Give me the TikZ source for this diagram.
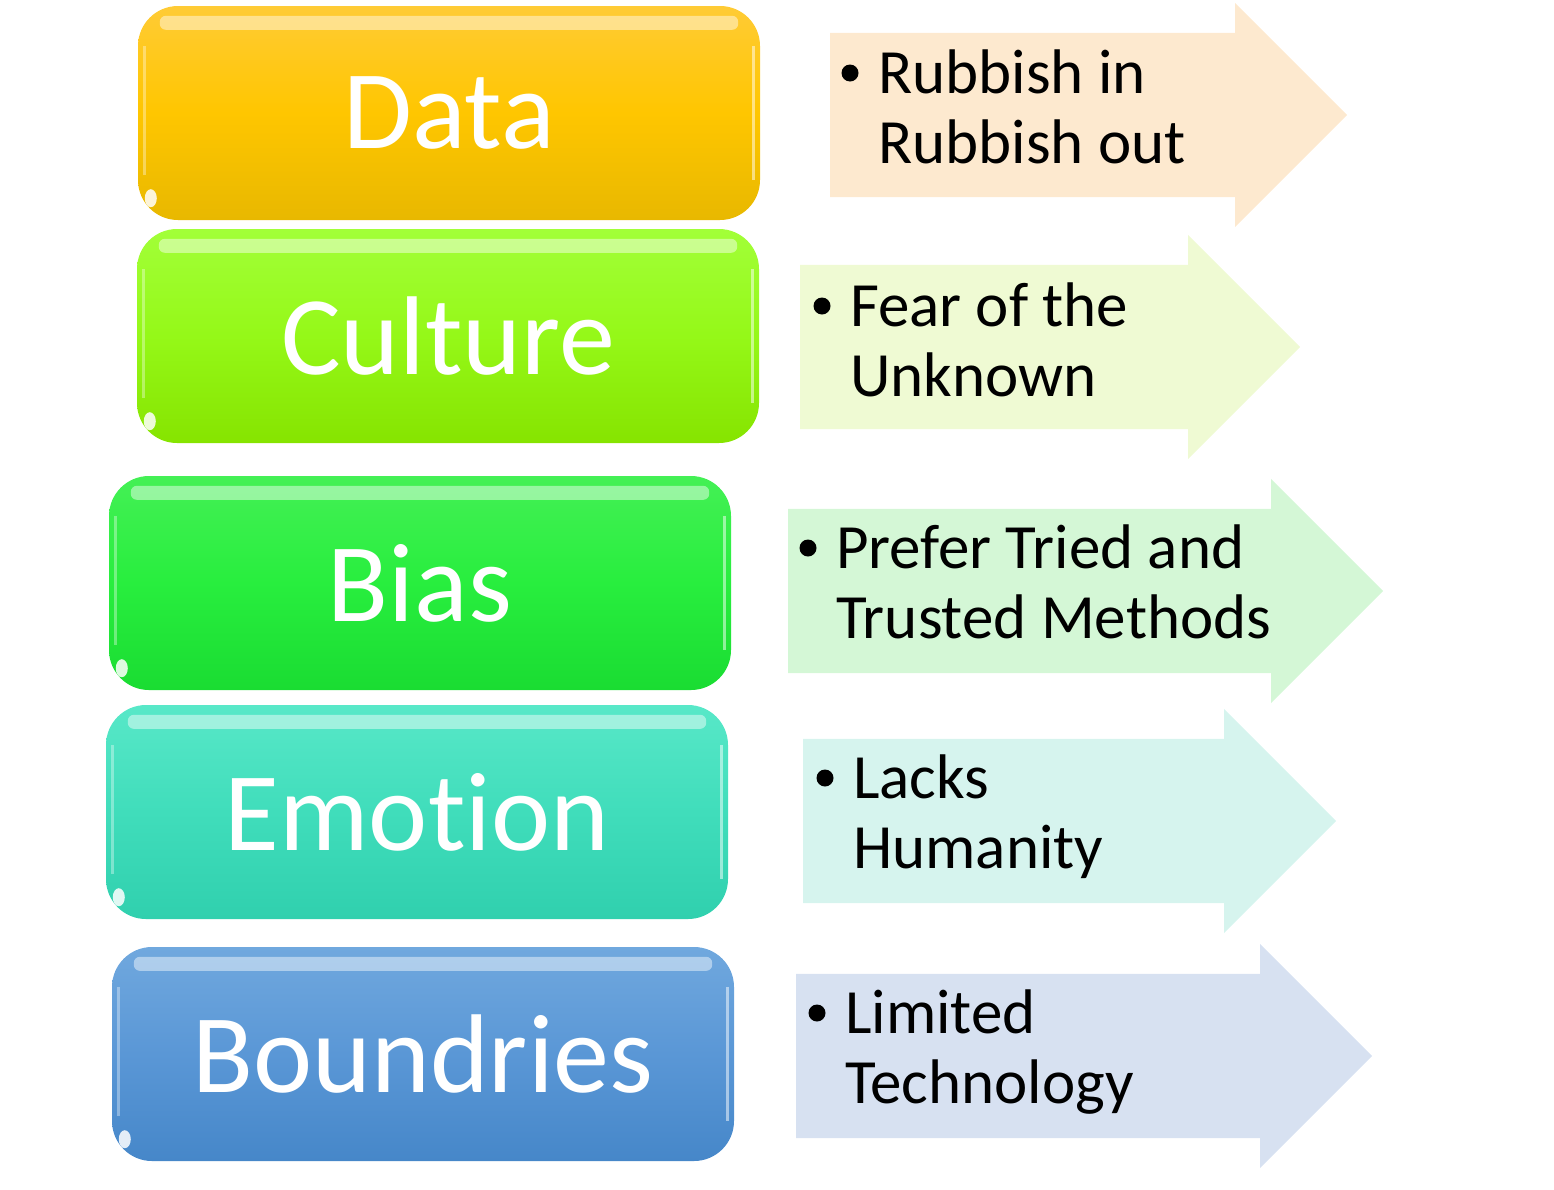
\documentclass[tikz,border=0pt]{standalone}
\usepackage{fontspec}
\setmainfont{Carlito}[Ligatures=CommonOff]
\usetikzlibrary{shapes.arrows}

\definecolor{dataT}{HTML}{FFCB35}
\definecolor{dataM}{HTML}{FFC600}
\definecolor{dataB}{HTML}{E8B800}
\definecolor{cultT}{HTML}{A2FF38}
\definecolor{cultM}{HTML}{95F818}
\definecolor{cultB}{HTML}{86E400}
\definecolor{biasT}{HTML}{44F055}
\definecolor{biasM}{HTML}{28EE3E}
\definecolor{biasB}{HTML}{1ADC32}
\definecolor{emoT}{HTML}{58E8C8}
\definecolor{emoM}{HTML}{40DDBB}
\definecolor{emoB}{HTML}{30D0AE}
\definecolor{bndT}{HTML}{70A8DE}
\definecolor{bndM}{HTML}{5A97D6}
\definecolor{bndB}{HTML}{4687C9}
\definecolor{dataL}{HTML}{FDE9CF}
\definecolor{cultL}{HTML}{EFFAD3}
\definecolor{biasL}{HTML}{D4F7D6}
\definecolor{emoL}{HTML}{D6F4EE}
\definecolor{bndL}{HTML}{D7E1F1}

\tikzset{
  topic/.style={rectangle, rounded corners=40pt, minimum width=622pt, minimum height=214pt,
    inner sep=0pt, text=white, font=\fontsize{112}{120}\selectfont},
  pointer/.style={single arrow, single arrow head extend=30pt, minimum height=#1, minimum width=224pt,
    inner xsep=0pt, inner ysep=82pt, anchor=tail},
  point/.style={anchor=base west, align=left, inner sep=0pt, font=\fontsize{63}{70}\selectfont},
  dot/.style={circle, fill=black, minimum size=17pt, inner sep=0pt}
}

\begin{document}
\begin{tikzpicture}[x=1pt, y=-1pt]
\useasboundingbox (0,0) rectangle (1554,1189);

% left column
\node [topic, top color=dataT, bottom color=dataB, middle color=dataM] (data) at (449,113) {Data};
\node [topic, top color=cultT, bottom color=cultB, middle color=cultM] (culture) at (448,336) {Culture};
\node [topic, top color=biasT, bottom color=biasB, middle color=biasM] (bias) at (420,583) {Bias};
\node [topic, top color=emoT, bottom color=emoB, middle color=emoM] (emotion) at (417,812) {Emotion};
\node [topic, top color=bndT, bottom color=bndB, middle color=bndM] (bound) at (423,1054) {Boundries};

% gloss
\foreach \n in {data,culture,bias,emotion,bound} {
  \fill [white, opacity=.45, rounded corners=6pt] ([xshift=22pt,yshift=-10pt]\n.north west) rectangle ([xshift=-22pt,yshift=-24pt]\n.north east);
  \draw [white, opacity=.35, line width=3pt] ([xshift=7pt,yshift=-40pt]\n.north west) -- ([xshift=7pt,yshift=45pt]\n.south west);
  \draw [white, opacity=.5, line width=3pt] ([xshift=-7pt,yshift=-40pt]\n.north east) -- ([xshift=-7pt,yshift=40pt]\n.south east);
  \fill [white, opacity=.85] ([xshift=13pt,yshift=22pt]\n.south west) ellipse [x radius=6pt, y radius=9pt];
}

% arrows
\node [pointer=517pt, fill=dataL] (a1) at (830,115) {};
\node [pointer=500pt, fill=cultL] (a2) at (800,347) {};
\node [pointer=595pt, fill=biasL] (a3) at (788,591) {};
\node [pointer=533pt, fill=emoL] (a4) at (803,821) {};
\node [pointer=576pt, fill=bndL] (a5) at (796,1056) {};

\node [point] (t1) at (878,163) {Rubbish in\\Rubbish out};
\node [point] (t2) at (850,396) {Fear of the\\Unknown};
\node [point] (t3) at (836,638) {Prefer Tried and\\Trusted Methods};
\node [point] (t4) at (853,868) {Lacks\\Humanity};
\node [point] (t5) at (845,1103) {Limited\\Technology};

\foreach \t in {t1,t2,t3,t4,t5}
  \node [dot] (\t b) at ([xshift=-28pt,yshift=90pt]\t.base west) {};
\end{tikzpicture}
\end{document}
